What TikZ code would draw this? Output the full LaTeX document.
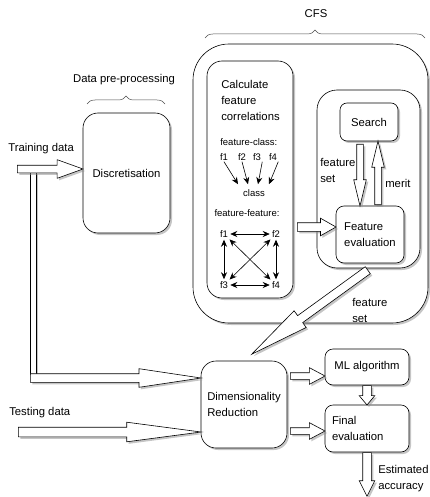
\documentclass[tikz,border=0pt]{standalone}
\usepackage{fontspec}
\setmainfont{Liberation Sans}
\usetikzlibrary{shapes.arrows,shadows,calc,arrows.meta,decorations.pathreplacing}

\begin{document}
\begin{tikzpicture}[x=1pt,y=-1pt,line width=0.6pt,font=\fontsize{11.3}{16}\selectfont]
\tikzset{
  shd/.style={drop shadow={shadow xshift=2pt,shadow yshift=-2pt,fill=black!45}},
  box/.style={draw,fill=white,shd,rounded corners=#1,inner sep=0pt,align=left},
  box/.default=8pt,
  lbl/.style={anchor=west,align=left,inner sep=0pt},
  sm/.style={font=\fontsize{9.5}{11}\selectfont,inner sep=1pt},
  brc/.style={decorate,decoration={brace,amplitude=8pt},draw=black!70,line width=0.5pt},
  tip/.style={-{Stealth[length=7pt,width=6pt]}},
  dtip/.style={{Stealth[length=7pt,width=6pt]}-{Stealth[length=7pt,width=6pt]},shorten <=1pt,shorten >=1pt}
}
\newcommand\fatarr[5]{
  \path let \p1=($(#2)-(#1)$), \n1={veclen(\x1,\y1)}, \n2={atan2(\y1,\x1)},
    \n3={2*atan(#4/(2*#5))} in
    node[single arrow,draw,fill=white,shd,rotate=\n2,anchor=tail,inner xsep=0pt,
      inner ysep=#3/2,minimum width=0pt,minimum height=\n1,
      single arrow head extend={(#4-#3)/2},single arrow tip angle=\n3] at (#1) {};
}
\useasboundingbox (0,0) rectangle (430,497);

\node (cfslbl) at (316,14) {CFS};
\draw[brc] (205,38) -- (425,38);
\node (dpp) at (124,80) {Data pre-processing};
\draw[brc] (87,104) -- (165,104);

\node[box=15pt,minimum width=87pt,minimum height=120pt] (disc) at (126.5,173) {Discretisation};
\node[box=36pt,minimum width=235pt,minimum height=279pt] (cfs) at (310.5,183.5) {};
\node[box=15pt,minimum width=86pt,minimum height=237pt] (calc) at (250,179.5) {};
\node[box=20pt,minimum width=103pt,minimum height=178pt] (grp) at (368.5,179) {};
\node[box=7pt,minimum width=58pt,minimum height=38pt] (search) at (369,122) {Search};
\node[box,minimum width=68pt,minimum height=57pt] (feval) at (370,234.5) {Feature\\evaluation};
\node[box=15pt,minimum width=86pt,minimum height=87pt] (dimred) at (244,404.5) {Dimensionality\\Reduction};
\node[box,minimum width=84pt,minimum height=36pt] (ml) at (367,367) {ML algorithm};
\node[box,minimum width=84pt,minimum height=47pt,text width=70pt] (final) at (367,428.5) {Final\\evaluation};

\node[lbl] (calctxt) at (221,100) {Calculate\\feature\\correlations};
\node[sm,anchor=west] (fc) at (219,142) {feature-class:};
\node[sm] (fa1) at (224,157) {f1};
\node[sm] (fa2) at (242,157) {f2};
\node[sm] (fa3) at (257,157) {f3};
\node[sm] (fa4) at (273,157) {f4};
\node[sm] (cls) at (254,193) {class};
\draw[tip] (fa1.south) -- ($(cls.north)+(-16,-4)$);
\draw[tip] (fa2.south) -- ($(cls.north)+(-6,-4)$);
\draw[tip] (fa3.south east) -- ($(cls.north)+(4,-4)$);
\draw[tip] (fa4.south east) -- ($(cls.north)+(15,-4)$);

\node[sm] (ff) at (247,213) {feature-feature:};
\node[sm] (fb1) at (224,234) {f1};
\node[sm] (fb2) at (276,234) {f2};
\node[sm] (fb3) at (224,285) {f3};
\node[sm] (fb4) at (276,285) {f4};
\draw[dtip] (fb1) -- (fb2);
\draw[dtip] (fb3) -- (fb4);
\draw[dtip] (fb1) -- (fb3);
\draw[dtip] (fb2) -- (fb4);
\draw[dtip] (fb1) -- (fb4);
\draw[dtip] (fb2) -- (fb3);

\node[lbl] (trnlbl) at (8,149) {Training data};
\node[lbl] (tstlbl) at (9,413) {Testing data};
\node[lbl] (fslbl) at (320,170) {feature\\set};
\node[lbl] (merit) at (385,183) {merit};
\node[lbl] (fslbl2) at (352,310) {feature\\set};
\node[lbl] (acclbl) at (378,479) {Estimated\\accuracy};

\coordinate (trn) at (17,169);
\coordinate (bend) at (30,378);
\coordinate (tst) at (18,432);
\coordinate (cf) at (297,227);
\coordinate (sd) at (360,144);
\coordinate (su) at (378,205);
\coordinate (fsa) at (368,270);
\coordinate (fsb) at (252,354);
\coordinate (dm) at (290,376);
\coordinate (df) at (290,431);
\coordinate (acc) at (367,496);

\draw[fill=white,shd] (30,172) rectangle (36,374);
\fatarr{trn}{disc.west |- trn}{7}{18}{25}
\fatarr{bend}{dimred.west |- bend}{8}{18}{60}
\fatarr{tst}{dimred.west |- tst}{9}{19}{72}
\fatarr{cf}{feval.west |- cf}{8}{17}{15}
\fatarr{sd}{feval.north -| sd}{6}{12}{25}
\fatarr{su}{search.south -| su}{6}{12}{25}
\fatarr{fsa}{fsb}{8}{20}{58}
\fatarr{dm}{ml.west |- dm}{6}{16}{15}
\fatarr{df}{final.west |- df}{6}{16}{15}
\fatarr{ml.south}{final.north}{8}{15}{9}
\fatarr{final.south}{acc}{8}{15}{15}
\end{tikzpicture}
\end{document}
